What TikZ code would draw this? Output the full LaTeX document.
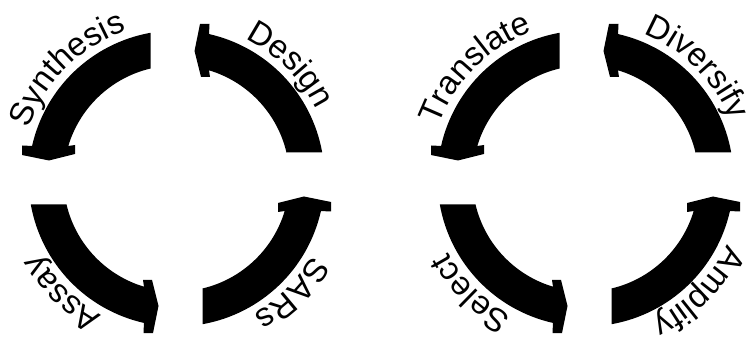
\documentclass[tikz,border=0pt]{standalone}
\usepackage{fontspec}
\setmainfont{Liberation Sans}
\usetikzlibrary{decorations.text,calc}
\newcommand{\lblfont}{\fontsize{33}{33}\selectfont}
\begin{document}
\begin{tikzpicture}[x=1pt,y=1pt,
  arclabel/.style={decorate, decoration={text along path, text align=center, text={|\lblfont|#1}}},
  pics/cyclearrow/.style={code={
    \fill[black] (-26,110.0) -- (-26,145.7)
      arc[start angle=100.1, end angle=167.3, radius=148]
      -- (-154.5,33) -- (-154.5,23.5) -- (-127.5,18) -- (-101.5,24.5) -- (-101.5,33.5) -- (-108.2,32.5)
      arc[start angle=163.3, end angle=103.3, radius=113] -- cycle;
  }}
]
\useasboundingbox (0,0) rectangle (746,337);
\clip (0,0) rectangle (746,337);
\coordinate (L) at (176.5,158.5);
\coordinate (R) at (585.5,158.5);
% left cycle
\pic at (L) {cyclearrow};
\pic[rotate=-90] at (L) {cyclearrow};
\pic[rotate=90] at (L) {cyclearrow};
\pic[rotate=180] at (L) {cyclearrow};
\path[arclabel=Synthesis] ($(L)+(175:156)$) arc[start angle=175, end angle=95, radius=156];
\path[arclabel=Design] ($(L)+(85:156)$) arc[start angle=85, end angle=5, radius=156];
\path[arclabel=Assay] ($(L)+(265:156)$) arc[start angle=265, end angle=185, radius=156];
\path[arclabel=SARs] ($(L)+(355:156)$) arc[start angle=355, end angle=275, radius=156];
% right cycle
\pic at (R) {cyclearrow};
\pic[rotate=-90] at (R) {cyclearrow};
\pic[rotate=90] at (R) {cyclearrow};
\pic[rotate=180] at (R) {cyclearrow};
\path[arclabel=Translate] ($(R)+(175:156)$) arc[start angle=175, end angle=95, radius=156];
\path[arclabel=Diversify] ($(R)+(85:156)$) arc[start angle=85, end angle=5, radius=156];
\path[arclabel=Select] ($(R)+(265:156)$) arc[start angle=265, end angle=185, radius=156];
\path[arclabel=Amplify] ($(R)+(355:156)$) arc[start angle=355, end angle=275, radius=156];
\end{tikzpicture}
\end{document}
